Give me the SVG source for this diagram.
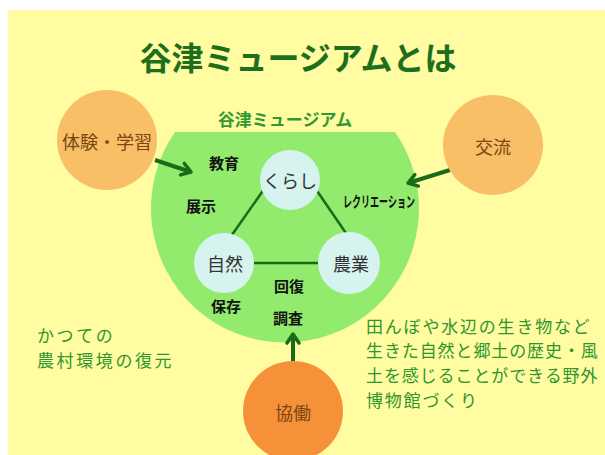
<svg xmlns="http://www.w3.org/2000/svg" width="605" height="455" viewBox="0 0 605 455">
<defs>
<style>
text{font-family:"Noto Sans CJK JP","Noto Sans CJK SC",sans-serif;text-anchor:middle;dominant-baseline:central}
.title{font-size:32px;font-weight:bold;fill:#1d6e1d}
.sub{font-size:17px;font-weight:bold;fill:#2f9a2f}
.orng{fill:#f8bf66}
.dorng{fill:#f6913a}
.otxt{font-size:18px;fill:#7a4612}
.blue{fill:#d6f3ef}
.btxt{font-size:18px;fill:#333333}
.lbl{font-size:15px;font-weight:bold;fill:#111111}
.note{font-size:17px;letter-spacing:1.8px;fill:#2e962e;text-anchor:start}
.tight{letter-spacing:0.9px}
.conn{stroke:#1a6a1a;fill:none}
</style>
<marker id="chev" viewBox="0 0 14 16" refX="11" refY="8" markerWidth="14" markerHeight="16" orient="auto" markerUnits="userSpaceOnUse">
<path d="M2,2 L11,8 L2,14" fill="none" stroke="#1a6a1a" stroke-width="3.5" stroke-linecap="round" stroke-linejoin="round"/>
</marker>
</defs>
<rect x="0" y="0" width="605" height="455" fill="#ffffff"/>
<rect x="8" y="10" width="597" height="445" fill="#fffca2"/>
<text class="title" x="298" y="56">谷津ミュージアムとは</text>
<g id="museum">
<path d="M175,132 L395,132 A134,134 0 1 1 175,132 Z" fill="#92eb6c"/>
<text class="sub" x="285" y="118">谷津ミュージアム</text>
<text class="lbl" x="224" y="162">教育</text>
<text class="lbl" x="201" y="205">展示</text>
<text class="lbl" x="379" y="200" font-size="12" textLength="72" lengthAdjust="spacingAndGlyphs">レクリエーション</text>
<text class="lbl" x="289" y="285">回復</text>
<text class="lbl" x="226" y="305">保存</text>
<text class="lbl" x="288" y="317">調査</text>
</g>
<g id="connectors">
<line class="conn" stroke-width="2.5" x1="267" y1="185" x2="227" y2="242"/>
<line class="conn" stroke-width="2.5" x1="313" y1="185" x2="352" y2="242"/>
<line class="conn" stroke-width="2.5" x1="253" y1="263" x2="327" y2="263"/>
<line class="conn" stroke-width="4" x1="155" y1="160" x2="191" y2="172" marker-end="url(#chev)"/>
<line class="conn" stroke-width="4" x1="450" y1="170" x2="408" y2="183" marker-end="url(#chev)"/>
<line class="conn" stroke-width="4" x1="293" y1="362" x2="293" y2="334" marker-end="url(#chev)"/>
</g>
<g id="kurashi">
<circle class="blue" cx="290" cy="180" r="30"/>
<text class="btxt" x="290" y="180">くらし</text>
</g>
<g id="shizen">
<circle class="blue" cx="224" cy="263" r="30"/>
<text class="btxt" x="225" y="263">自然</text>
</g>
<g id="nougyou">
<circle class="blue" cx="349" cy="263" r="31"/>
<text class="btxt" x="351" y="263">農業</text>
</g>
<g id="taiken">
<circle class="orng" cx="107" cy="140" r="50"/>
<text class="otxt" x="107" y="141">体験・学習</text>
</g>
<g id="kouryu">
<circle class="orng" cx="493" cy="145" r="50"/>
<text class="otxt" x="493" y="146">交流</text>
</g>
<g id="kyoudou">
<circle class="dorng" cx="293" cy="411" r="50"/>
<text class="otxt" x="293" y="412">協働</text>
</g>
<g id="note-left">
<text class="note" x="37" y="334" style="letter-spacing:2.6px">かつての</text>
<text class="note" x="37" y="359" style="letter-spacing:2.6px">農村環境の復元</text>
</g>
<g id="note-right">
<text class="note" x="366" y="325">田んぼや水辺の生き物など</text>
<text class="note tight" x="366" y="349.7">生きた自然と郷土の歴史・風</text>
<text class="note tight" x="366" y="374.4">土を感じることができる野外</text>
<text class="note" x="366" y="399">博物館づくり</text>
</g>
</svg>
